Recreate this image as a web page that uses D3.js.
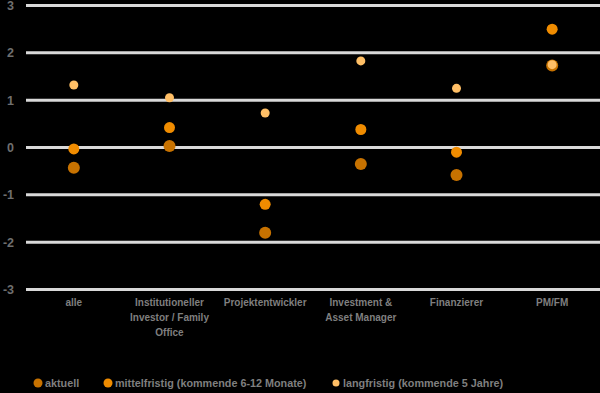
<!DOCTYPE html>
<html>
<head>
<meta charset="utf-8">
<script src="https://cdn.jsdelivr.net/npm/d3@7"></script>
<style>
  body { margin: 0; background: #000; }
  text { font-family: "Liberation Sans", Arial, sans-serif; font-weight: bold; fill: #7f7f7f; }
</style>
</head>
<body>
<div id="chart"></div>
<script>
// data
var categories = ["alle", "Institutioneller Investor / Family Office", "Projektentwickler",
    "Investment & Asset Manager", "Finanzierer", "PM/FM"];
var categoryLines = [["alle"], ["Institutioneller", "Investor / Family", "Office"], ["Projektentwickler"],
    ["Investment &", "Asset Manager"], ["Finanzierer"], ["PM/FM"]];
var aktuell = [-0.43, 0.03, -1.8, -0.35, -0.58, 1.73];
var mittelfristig = [-0.03, 0.42, -1.2, 0.38, -0.1, 2.5];
var langfristig = [1.32, 1.05, 0.73, 1.83, 1.25, 1.75];
var yTicks = [3, 2, 1, 0, -1, -2, -3];
var seriesNames = ["aktuell", "mittelfristig (kommende 6-12 Monate)", "langfristig (kommende 5 Jahre)"];

var series = [
    { name: seriesNames[0], values: aktuell, color: "#c77200", r: 6 },
    { name: seriesNames[1], values: mittelfristig, color: "#f08c00", r: 5.5 },
    { name: seriesNames[2], values: langfristig, color: "#ffbf66", r: 4.5 }
];

var W = 600, H = 393;
var margin = { top: 5, right: 0, bottom: 104, left: 26 };
var width = W - margin.left - margin.right,
    height = H - margin.top - margin.bottom;

var svg = d3.select("#chart").append("svg")
    .attr("width", W)
    .attr("height", H);

var g = svg.append("g")
    .attr("transform", "translate(" + margin.left + "," + margin.top + ")");

var x = d3.scaleBand().domain(categories).range([0, width]);
var y = d3.scaleLinear().domain([-3, 3]).range([height + 0.5, 0.5]);

// gridlines
g.selectAll(".grid")
    .data(yTicks)
    .enter().append("line")
    .attr("x1", 0).attr("x2", width)
    .attr("y1", function(d) { return y(d); })
    .attr("y2", function(d) { return y(d); })
    .attr("stroke", "#d9d9d9")
    .attr("stroke-width", 3);

// y labels
g.selectAll(".ylab")
    .data(yTicks)
    .enter().append("text")
    .attr("x", -12)
    .attr("y", function(d) { return y(d); })
    .attr("dy", "0.35em")
    .attr("text-anchor", "end")
    .style("font-size", "12.5px")
    .style("fill", "#6f6f6f")
    .text(function(d) { return d; });

// x labels
var xl = g.selectAll(".xlab")
    .data(categories)
    .enter().append("text")
    .attr("text-anchor", "middle")
    .attr("transform", function(d) { return "translate(" + (x(d) + x.bandwidth() / 2) + "," + (height + 17) + ")"; })
    .style("font-size", "10px");
xl.selectAll("tspan")
    .data(function(d, i) { return categoryLines[i]; })
    .enter().append("tspan")
    .attr("x", 0)
    .attr("dy", function(d, i) { return i === 0 ? 0 : 15; })
    .text(function(d) { return d; });

// points
series.forEach(function(s) {
    g.selectAll(null)
        .data(s.values)
        .enter().append("circle")
        .attr("cx", function(d, i) { return x(categories[i]) + x.bandwidth() / 2; })
        .attr("cy", function(d) { return y(d); })
        .attr("r", s.r)
        .attr("fill", s.color);
});

// legend
var legendX = [38, 108, 336];
var leg = svg.selectAll(".leg")
    .data(series)
    .enter().append("g")
    .attr("transform", function(d, i) { return "translate(" + legendX[i] + ",383)"; });
leg.append("circle")
    .attr("r", function(d, i) { return i === 2 ? 3.5 : 4.5; })
    .attr("fill", function(d) { return d.color; });
leg.append("text")
    .attr("x", 7)
    .attr("dy", "0.35em")
    .style("font-size", "10.8px")
    .text(function(d) { return d.name; });
</script>
</body>
</html>
